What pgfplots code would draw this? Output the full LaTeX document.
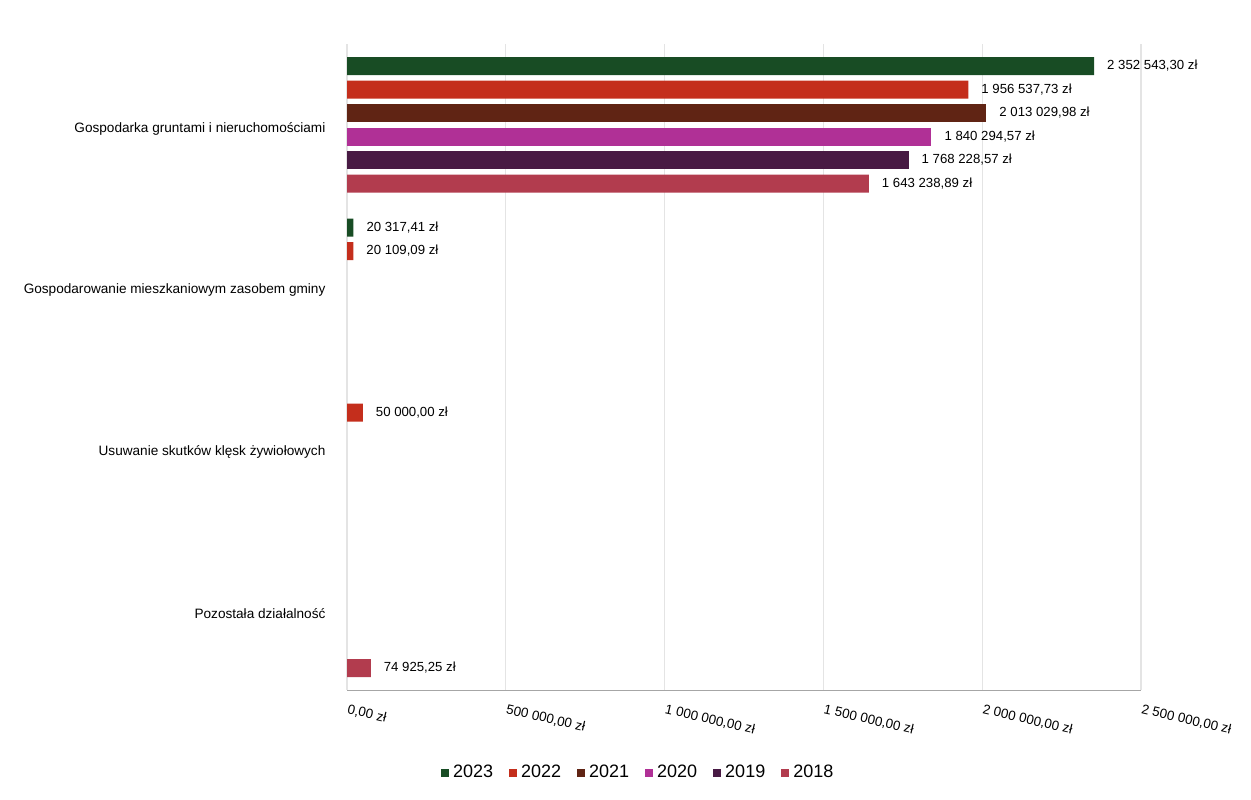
\documentclass[border=0pt]{standalone}
\usepackage{pgfplots}
\pgfplotsset{compat=1.18}
\usepackage{fontspec}
\setmainfont{Liberation Sans}
\definecolor{c23}{RGB}{24,76,36}
\definecolor{c22}{RGB}{196,46,28}
\definecolor{c21}{RGB}{96,36,20}
\definecolor{c20}{RGB}{176,48,150}
\definecolor{c19}{RGB}{72,26,68}
\definecolor{c18}{RGB}{178,60,78}
\definecolor{gridc}{RGB}{228,228,228}
\begin{document}
\begin{tikzpicture}
\begin{axis}[
  at={(173.5pt,54.5pt)}, anchor=south west,
  scale only axis, width=397pt, height=323pt,
  xbar, bar width=9pt,
  xmin=0, xmax=2500000, ymin=-0.5, ymax=3.5,
  scaled x ticks=false,
  xtick={0,500000,1000000,1500000,2000000,2500000},
  xticklabels={{0,00 zł},{500 000,00 zł},{1 000 000,00 zł},{1 500 000,00 zł},{2 000 000,00 zł},{2 500 000,00 zł}},
  x tick label style={rotate=-13, anchor=north west, font=\fontsize{6.7}{8}\selectfont, yshift=-3pt, xshift=-1pt},
  ytick={0,1,2,3},
  yticklabels={{Pozostała działalność},{Usuwanie skutków klęsk żywiołowych},{Gospodarowanie mieszkaniowym zasobem gminy},{Gospodarka gruntami i nieruchomościami}},
  y tick label style={font=\fontsize{6.8}{8}\selectfont, anchor=east, xshift=-3pt, yshift=-2pt},
  axis x line*=bottom, axis y line*=left,
  x axis line style={draw=gray!70},
  y axis line style={draw=none},
  major tick style={draw=none},
  xmajorgrids, grid style={gridc, line width=0.6pt},
  nodes near coords, point meta=explicit symbolic,
  every node near coord/.append style={font=\fontsize{6.6}{8}\selectfont, anchor=west, xshift=3pt, black},
  legend style={at={(0.368,-0.128)}, anchor=center, draw=none, legend columns=6,
    font=\fontsize{9}{11}\selectfont,
    /tikz/every even column/.append style={column sep=6pt}},
  legend image code/.code={\fill[#1] (0pt,-2pt) rectangle (4pt,2pt);},
]
\addplot[fill=c23, draw=none, bar shift=29.375pt] coordinates {(2352543.30,3) [2 352 543,30 zł] (20317.41,2) [20 317,41 zł]};
\addplot[fill=c22, draw=none, bar shift=17.625pt] coordinates {(1956537.73,3) [1 956 537,73 zł] (20109.09,2) [20 109,09 zł] (50000.00,1) [50 000,00 zł]};
\addplot[fill=c21, draw=none, bar shift=5.875pt] coordinates {(2013029.98,3) [2 013 029,98 zł]};
\addplot[fill=c20, draw=none, bar shift=-5.875pt] coordinates {(1840294.57,3) [1 840 294,57 zł]};
\addplot[fill=c19, draw=none, bar shift=-17.625pt] coordinates {(1768228.57,3) [1 768 228,57 zł]};
\addplot[fill=c18, draw=none, bar shift=-29.375pt] coordinates {(1643238.89,3) [1 643 238,89 zł] (74925.25,0) [74 925,25 zł]};
\legend{2023,2022,2021,2020,2019,2018}
\end{axis}
\pgfresetboundingbox
\path (0,0) rectangle (625.5pt,399.5pt);
\end{tikzpicture}
\end{document}
